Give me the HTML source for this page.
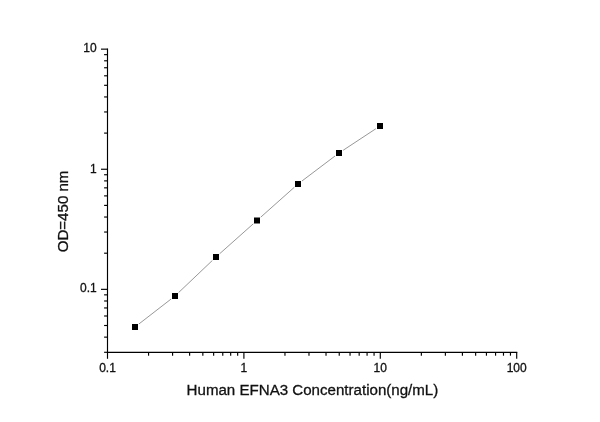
<!DOCTYPE html>
<html><head><meta charset="utf-8"><title>Human EFNA3 ELISA standard curve</title>
<style>html,body{margin:0;padding:0;background:#fff;}body{width:600px;height:422px;overflow:hidden;}svg{display:block;will-change:transform;}text{font-family:"Liberation Sans",sans-serif;fill:#111;stroke:#111;stroke-width:0.3px;}</style>
</head><body>
<svg width="600" height="422" viewBox="0 0 600 422">
<rect width="600" height="422" fill="#fff"/>
<g stroke="#000" stroke-width="1.15" fill="none">
<line x1="107.5" y1="48.57" x2="107.5" y2="352.88"/>
<line x1="106.92" y1="352.3" x2="517.28" y2="352.3"/>
<line x1="104.10" y1="352.30" x2="107.5" y2="352.30"/>
<line x1="104.10" y1="337.14" x2="107.5" y2="337.14"/>
<line x1="104.10" y1="325.50" x2="107.5" y2="325.50"/>
<line x1="104.10" y1="315.99" x2="107.5" y2="315.99"/>
<line x1="104.10" y1="307.95" x2="107.5" y2="307.95"/>
<line x1="104.10" y1="300.99" x2="107.5" y2="300.99"/>
<line x1="104.10" y1="294.85" x2="107.5" y2="294.85"/>
<line x1="101.00" y1="289.35" x2="107.5" y2="289.35"/>
<line x1="104.10" y1="253.20" x2="107.5" y2="253.20"/>
<line x1="104.10" y1="232.05" x2="107.5" y2="232.05"/>
<line x1="104.10" y1="217.04" x2="107.5" y2="217.04"/>
<line x1="104.10" y1="205.40" x2="107.5" y2="205.40"/>
<line x1="104.10" y1="195.89" x2="107.5" y2="195.89"/>
<line x1="104.10" y1="187.85" x2="107.5" y2="187.85"/>
<line x1="104.10" y1="180.89" x2="107.5" y2="180.89"/>
<line x1="104.10" y1="174.75" x2="107.5" y2="174.75"/>
<line x1="101.00" y1="169.25" x2="107.5" y2="169.25"/>
<line x1="104.10" y1="133.10" x2="107.5" y2="133.10"/>
<line x1="104.10" y1="111.95" x2="107.5" y2="111.95"/>
<line x1="104.10" y1="96.94" x2="107.5" y2="96.94"/>
<line x1="104.10" y1="85.30" x2="107.5" y2="85.30"/>
<line x1="104.10" y1="75.79" x2="107.5" y2="75.79"/>
<line x1="104.10" y1="67.75" x2="107.5" y2="67.75"/>
<line x1="104.10" y1="60.79" x2="107.5" y2="60.79"/>
<line x1="104.10" y1="54.65" x2="107.5" y2="54.65"/>
<line x1="101.00" y1="49.15" x2="107.5" y2="49.15"/>
<line x1="107.50" y1="352.3" x2="107.50" y2="358.80"/>
<line x1="148.56" y1="352.3" x2="148.56" y2="355.70"/>
<line x1="172.58" y1="352.3" x2="172.58" y2="355.70"/>
<line x1="189.62" y1="352.3" x2="189.62" y2="355.70"/>
<line x1="202.84" y1="352.3" x2="202.84" y2="355.70"/>
<line x1="213.64" y1="352.3" x2="213.64" y2="355.70"/>
<line x1="222.77" y1="352.3" x2="222.77" y2="355.70"/>
<line x1="230.68" y1="352.3" x2="230.68" y2="355.70"/>
<line x1="237.66" y1="352.3" x2="237.66" y2="355.70"/>
<line x1="243.90" y1="352.3" x2="243.90" y2="358.80"/>
<line x1="284.96" y1="352.3" x2="284.96" y2="355.70"/>
<line x1="308.98" y1="352.3" x2="308.98" y2="355.70"/>
<line x1="326.02" y1="352.3" x2="326.02" y2="355.70"/>
<line x1="339.24" y1="352.3" x2="339.24" y2="355.70"/>
<line x1="350.04" y1="352.3" x2="350.04" y2="355.70"/>
<line x1="359.17" y1="352.3" x2="359.17" y2="355.70"/>
<line x1="367.08" y1="352.3" x2="367.08" y2="355.70"/>
<line x1="374.06" y1="352.3" x2="374.06" y2="355.70"/>
<line x1="380.30" y1="352.3" x2="380.30" y2="358.80"/>
<line x1="421.36" y1="352.3" x2="421.36" y2="355.70"/>
<line x1="445.38" y1="352.3" x2="445.38" y2="355.70"/>
<line x1="462.42" y1="352.3" x2="462.42" y2="355.70"/>
<line x1="475.64" y1="352.3" x2="475.64" y2="355.70"/>
<line x1="486.44" y1="352.3" x2="486.44" y2="355.70"/>
<line x1="495.57" y1="352.3" x2="495.57" y2="355.70"/>
<line x1="503.48" y1="352.3" x2="503.48" y2="355.70"/>
<line x1="510.46" y1="352.3" x2="510.46" y2="355.70"/>
<line x1="516.70" y1="352.3" x2="516.70" y2="358.80"/>
</g>
<g stroke="#989898" stroke-width="1.0" fill="none">
<line x1="138.95" y1="323.94" x2="171.05" y2="299.06"/>
<line x1="178.62" y1="292.55" x2="212.38" y2="260.45"/>
<line x1="219.73" y1="253.68" x2="253.27" y2="223.82"/>
<line x1="260.73" y1="217.18" x2="294.27" y2="187.32"/>
<line x1="301.99" y1="180.98" x2="335.01" y2="156.02"/>
<line x1="343.18" y1="150.25" x2="375.82" y2="128.75"/>
</g>
<rect x="132.00" y="324.00" width="6.0" height="6.0" fill="#000"/>
<rect x="172.00" y="293.00" width="6.0" height="6.0" fill="#000"/>
<rect x="213.00" y="254.00" width="6.0" height="6.0" fill="#000"/>
<rect x="254.00" y="217.50" width="6.0" height="6.0" fill="#000"/>
<rect x="295.00" y="181.00" width="6.0" height="6.0" fill="#000"/>
<rect x="336.00" y="150.00" width="6.0" height="6.0" fill="#000"/>
<rect x="377.00" y="123.00" width="6.0" height="6.0" fill="#000"/>
<text x="96.7" y="52.45" font-size="12" text-anchor="end">10</text>
<text x="96.7" y="172.85" font-size="12" text-anchor="end">1</text>
<text x="96.7" y="292.2" font-size="12" text-anchor="end">0.1</text>
<text x="107.50" y="371.8" font-size="12" text-anchor="middle">0.1</text>
<text x="243.90" y="371.8" font-size="12" text-anchor="middle">1</text>
<text x="380.30" y="371.8" font-size="12" text-anchor="middle">10</text>
<text x="516.70" y="371.8" font-size="12" text-anchor="middle">100</text>
<text x="312.45" y="394.7" font-size="15.1" text-anchor="middle">Human EFNA3 Concentration(ng/mL)</text>
<text transform="translate(67.8,211.45) rotate(-90)" font-size="15.1" text-anchor="middle">OD=450 nm</text>
</svg>
</body></html>
